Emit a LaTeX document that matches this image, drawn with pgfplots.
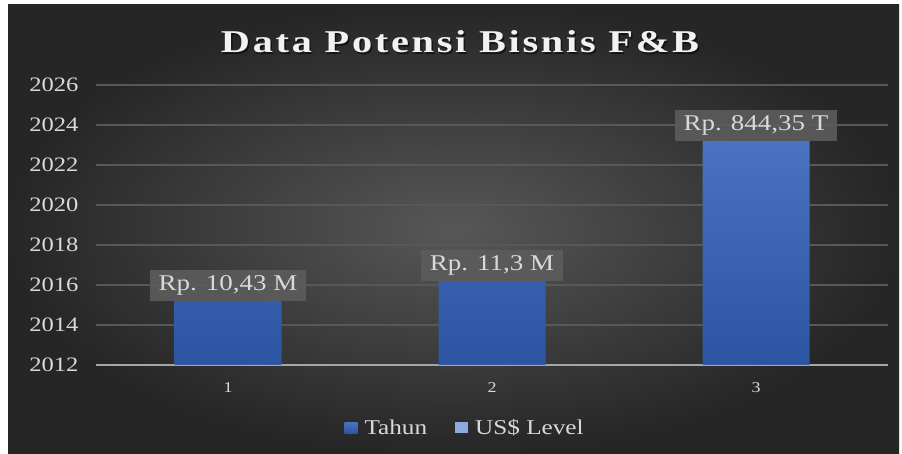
\documentclass[border=0pt]{standalone}
\usepackage{pgfplots}
\pgfplotsset{compat=1.18}
\usepackage{fontspec}
\setmainfont{Liberation Serif}[FakeStretch=1.2]
\newfontfamily\titlefont{Liberation Serif}[FakeStretch=1.2, LetterSpace=8]
\definecolor{bgin}{HTML}{575757}
\definecolor{bgout}{HTML}{262626}
\definecolor{gridc}{HTML}{585858}
\definecolor{txt}{HTML}{D9D9D9}
\definecolor{bartop}{HTML}{4A72C0}
\definecolor{barbot}{HTML}{2B54A2}
\definecolor{usd}{HTML}{8FAADC}
\definecolor{lblfill}{HTML}{5C5C5C}
\definecolor{axisc}{HTML}{A6A6A6}
\begin{document}
\begin{tikzpicture}[x=1pt,y=1pt]
\useasboundingbox (0,0) rectangle (902,454);
\fill[white] (0,0) rectangle (902,454);
\shade[inner color=bgin, outer color=bgout] (8,0) rectangle (899,449);
% title
\node[anchor=base, inner sep=0pt, text=black, opacity=0.55] at (461.5,399.5)
  {\resizebox{478pt}{22pt}{\titlefont\bfseries Data Potensi Bisnis F\&B}};
\node[anchor=base, inner sep=0pt, text=white!95!black] at (460,401)
  {\resizebox{478pt}{22pt}{\titlefont\bfseries Data Potensi Bisnis F\&B}};
\begin{axis}[
  at={(96pt,89pt)}, anchor=south west,
  scale only axis, width=792pt, height=280pt,
  xmin=0.5, xmax=3.5, ymin=2012, ymax=2026,
  xtick={1,2,3}, xticklabels={1,2,3},
  ytick={2012,2014,...,2026},
  yticklabels={2012,2014,2016,2018,2020,2022,2024,2026},
  major tick length=0pt,
  axis lines*=left,
  y axis line style={draw=none},
  x axis line style={draw=axisc, line width=2pt, -},
  ymajorgrids, grid style={draw=gridc, line width=1.3pt},
  yticklabel style={font=\rmfamily\fontsize{20.5}{22}\selectfont, text=txt, anchor=east, xshift=-14pt},
  xticklabel style={font=\rmfamily\fontsize{15}{17}\selectfont, text=txt, anchor=north, yshift=-14pt},
  legend style={at={(axis description cs:0.466,-0.225)}, anchor=center, draw=none, fill=none,
    font=\rmfamily\fontsize{21}{23}\selectfont, text=txt,
    /tikz/every odd column/.append style={column sep=5pt},
    /tikz/every even column/.append style={column sep=26pt}},
  legend columns=2,
  legend image code/.code={\path[#1, draw=none] (0pt,-5.5pt) rectangle (13pt,5.5pt);},
]
\addplot[ybar, bar width=107pt, bar shift=0pt, draw=none, top color=bartop, bottom color=barbot,
  point meta=explicit symbolic,
  nodes near coords,
  every node near coord/.style={font=\rmfamily\fontsize{22.5}{24}\selectfont, text=txt,
    fill=lblfill, fill opacity=0.9, text opacity=1, inner xsep=9pt, inner ysep=5pt,
    text height=16pt, text depth=5pt, anchor=south, yshift=0pt}]
  coordinates {(1,2015.2) [Rp. 10,43 M] (2,2016.2) [Rp. 11,3 M] (3,2023.2) [Rp. 844,35 T]};
\addlegendentry{Tahun}
\addplot[ybar, bar width=107pt, bar shift=0pt, draw=none, fill=usd]
  coordinates {(1,2012) (2,2012) (3,2012)};
\addlegendentry{US\$ Level}
\end{axis}
\end{tikzpicture}
\end{document}
